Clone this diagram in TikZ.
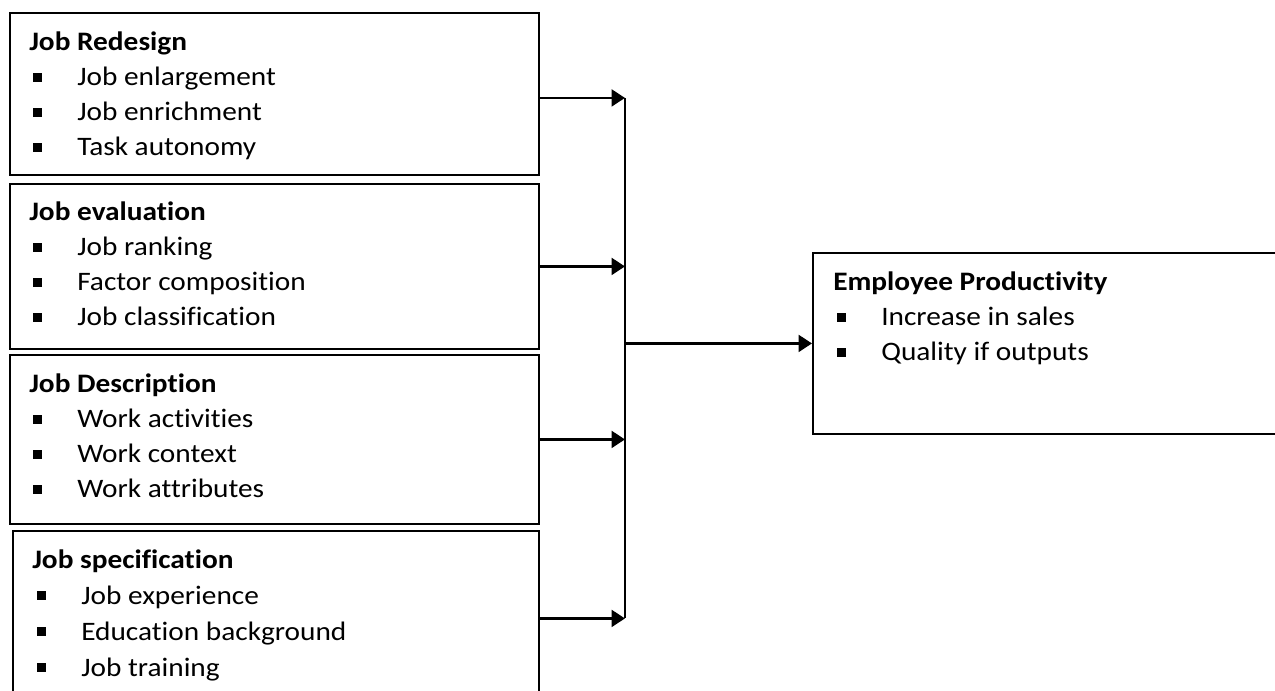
\documentclass[tikz,border=0pt]{standalone}
\usepackage{fontspec}
\setmainfont{Carlito}[Ligatures=NoCommon, FakeStretch=1.1]
\usepackage{tikz}
\usetikzlibrary{calc,arrows.meta}
\definecolor{text}{HTML}{000000}
\newdimen\pxu \pxu=0.75pt
\newcommand{\bsq}{\rule[3.2pt]{6.5pt}{6.5pt}\hspace{26.5pt}}
\tikzset{
  box/.style={draw=text, line width=1.4pt, anchor=north west, inner sep=0pt},
  arr/.style={draw=text, line width=2pt, -{Triangle[length=10pt,width=12.5pt]}},
  busline/.style={draw=text, line width=1.5pt},
  head/.style={text=text, anchor=base west, inner sep=0pt, font=\fontsize{20pt}{24pt}\selectfont\bfseries},
  itm/.style={text=text, anchor=base west, inner sep=0pt, font=\fontsize{20pt}{24pt}\selectfont},
}

\begin{document}
\begin{tikzpicture}[x=0.75pt, y=-0.75pt]
  \path[use as bounding box, clip] (0,0) rectangle (1275,691);
  \coordinate (bus) at (625,0);

  \node[box, minimum width=529\pxu, minimum height=162\pxu] (redesign) at (9,12) {};
  \node[head] (redesign-t) at ($(redesign.north west)+(20,39)$) {Job Redesign};
  \foreach \k/\t in {1/Job enlargement, 2/Job enrichment, 3/Task autonomy}
    \node[itm] (redesign-\k) at ($(redesign.north west)+(24,39+35*\k)$) {\bsq\t};

  \node[box, minimum width=529\pxu, minimum height=165\pxu] (evaluation) at (9,183) {};
  \node[head] (evaluation-t) at ($(evaluation.north west)+(20,38)$) {Job evaluation};
  \foreach \k/\t in {1/Job ranking, 2/Factor composition, 3/Job classification}
    \node[itm] (evaluation-\k) at ($(evaluation.north west)+(24,38+35*\k)$) {\bsq\t};

  \node[box, minimum width=529\pxu, minimum height=169\pxu] (description) at (9,354) {};
  \node[head] (description-t) at ($(description.north west)+(20,39)$) {Job Description};
  \foreach \k/\t in {1/Work activities, 2/Work context, 3/Work attributes}
    \node[itm] (description-\k) at ($(description.north west)+(24,39+35*\k)$) {\bsq\t};

  \node[box, minimum width=526\pxu, minimum height=175\pxu] (spec) at (12,530) {};
  \node[head] (spec-t) at ($(spec.north west)+(20,38)$) {Job specification};
  \foreach \k/\t in {1/Job experience, 2/Education background, 3/Job training}
    \node[itm] (spec-\k) at ($(spec.north west)+(25,38+36*\k)$) {\bsq\t};

  \node[box, minimum width=480\pxu, minimum height=181\pxu] (output) at (812,252) {};
  \node[head] (output-t) at ($(output.north west)+(21,39)$) {Employee Productivity};
  \foreach \k/\t in {1/Increase in sales, 2/Quality if outputs}
    \node[itm] (output-\k) at ($(output.north west)+(25,39+35*\k)$) {\bsq\t};

  % connectors
  \draw[arr] ([yshift=-3pt]redesign.east) -- ([yshift=-3pt]redesign.east -| bus);
  \draw[arr] (evaluation.east) -- (evaluation.east -| bus);
  \draw[arr] (description.east) -- (description.east -| bus);
  \draw[arr] (spec.east) -- (spec.east -| bus);
  \draw[busline] ([yshift=-3pt]redesign.east -| bus) -- (spec.east -| bus);
  \draw[arr] (output.west -| bus) -- (output.west);
\end{tikzpicture}
\end{document}
